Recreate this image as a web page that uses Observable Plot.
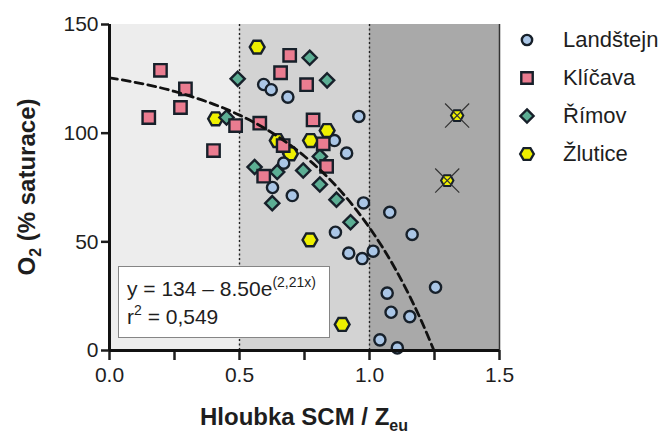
<!DOCTYPE html>
<html><head><meta charset="utf-8">
<script src="https://cdn.jsdelivr.net/npm/d3@7"></script>
<script src="https://cdn.jsdelivr.net/npm/@observablehq/plot@0.6"></script>
<style>
body{margin:0;background:#fff;font-family:Arial,"Liberation Sans",Helvetica,sans-serif;}
#wrap{position:relative;width:670px;height:442px;overflow:hidden;}
#eq{position:absolute;left:118px;top:266px;width:212px;height:72px;background:#fff;border:1.5px solid #858585;font-size:21px;color:#1e1e1e;line-height:28px;padding:8px 0 0 8px;box-sizing:border-box;white-space:nowrap;}
#eq sup{font-size:14px;vertical-align:9px;line-height:0;}
#legend{position:absolute;left:515px;top:21px;font-size:22px;color:#1e1e1e;}
#legend .row{display:flex;align-items:center;height:38px;}
#legend svg{width:24px;height:24px;margin-right:24px;}
</style></head><body><div id="wrap"></div>
<script>
// ---- data ----
const seriesNames = ["Landštejn", "Klíčava", "Římov", "Žlutice"];
const seriesFill = ["#aac6e6", "#ea7c90", "#5cae94", "#eef000"];

const landstejnX = [0.593,0.622,0.686,0.959,0.865,0.912,0.670,0.627,0.703,0.869,0.920,0.977,1.078,1.164,1.014,0.972,1.068,1.254,1.083,1.155,1.040,1.107];
const landstejnY = [122.4,120.0,116.6,107.7,96.6,90.8,86.2,75.0,71.3,54.4,44.8,67.9,63.6,53.4,45.7,42.3,26.4,29.1,17.6,15.6,4.9,1.2];

const klicavaX = [0.151,0.196,0.292,0.273,0.400,0.485,0.693,0.658,0.758,0.578,0.783,0.668,0.822,0.835,0.593];
const klicavaY = [107.2,128.9,120.4,111.8,92.0,103.5,135.8,127.8,122.3,104.6,106.1,94.3,95.1,84.7,80.2];

const rimovX = [0.770,0.493,0.837,0.450,0.809,0.558,0.645,0.745,0.809,0.626,0.873,0.927];
const rimovY = [134.7,125.0,124.3,107.2,89.3,84.4,82.1,82.8,76.4,67.8,69.4,59.0];

const zluticeX = [0.568,0.408,0.837,0.773,0.645,0.696,0.771,0.895];
const zluticeY = [139.6,106.6,101.2,96.6,96.6,90.5,50.9,12.0];

// excluded (crossed) Žlutice points
const excludedX = [1.337,1.299];
const excludedY = [108.1,78.2];

// fitted curve y = 134 - 8.50e^(2,21x)
const fitX = [0,0.25,0.5,0.6,0.75,0.9,1.0,1.05,1.1,1.15,1.2,1.248];
const fitY = [125.5,119.2,108.3,102.0,89.4,71.9,56.5,47.5,37.4,26.1,13.5,0];

// shaded zones
const zoneStart = [0,0.5,1.0];
const zoneEnd = [0.5,1.0,1.5];
const zoneFill = ["#ededed","#d3d3d3","#a9a9a9"];
const zoneDividers = [0.5,1.0];

const xMajorTicks = [0,0.5,1.0,1.5];
const xMinorTicks = [0.25,0.75,1.25];
const yTicks = [0,50,100,150];
const yDomain = [0,150];
const xDomain = [0,1.5];

// ---- build ----
const pts = (xs, ys) => xs.map((x, i) => ({x, y: ys[i]}));
const zones = zoneStart.map((s, i) => ({x1: s, x2: zoneEnd[i], y1: yDomain[0], y2: yDomain[1], fill: zoneFill[i]}));
const fit = pts(fitX, fitY);

const hexFlat = {
  draw(ctx, size) {
    const r = Math.sqrt(size / Math.PI), h = r * Math.sqrt(3) / 2;
    ctx.moveTo(r, 0); ctx.lineTo(r / 2, h); ctx.lineTo(-r / 2, h);
    ctx.lineTo(-r, 0); ctx.lineTo(-r / 2, -h); ctx.lineTo(r / 2, -h); ctx.closePath();
  }
};
const symbols = ["circle", "square", "diamond2", hexFlat];
const radii = [5.6, 7.0, 6.4, 7.4];
const ink = "#17202a";
const dotStyle = i => ({x: "x", y: "y", symbol: symbols[i], r: radii[i], fill: seriesFill[i], stroke: ink, strokeWidth: 2.4});

const plot = Plot.plot({
  width: 670, height: 442,
  marginLeft: 109, marginRight: 171, marginTop: 24, marginBottom: 92,
  x: {domain: xDomain},
  y: {domain: yDomain},
  color: {type: "identity"},
  style: {fontFamily: "Arial, 'Liberation Sans', Helvetica, sans-serif", color: "#1e1e1e", background: "transparent", overflow: "visible"},
  marks: [
    Plot.rect(zones, {x1: "x1", x2: "x2", y1: "y1", y2: "y2", fill: "fill"}),
    Plot.ruleX(zoneDividers, {stroke: "#222", strokeWidth: 1.4, strokeDasharray: "2,2.5"}),
    Plot.ruleX([xDomain[1]], {stroke: "#333", strokeWidth: 1.5}),
    Plot.dot(pts(zluticeX, zluticeY), dotStyle(3)),
    Plot.dot(pts(landstejnX, landstejnY), dotStyle(0)),
    Plot.dot(pts(rimovX, rimovY), dotStyle(2)),
    Plot.dot(pts(klicavaX, klicavaY), dotStyle(1)),
    Plot.dot(pts(excludedX, excludedY), {x: "x", y: "y", symbol: hexFlat, r: 6.2, fill: seriesFill[3], stroke: ink, strokeWidth: 2}),
    Plot.dot(pts(excludedX, excludedY), {x: "x", y: "y", symbol: "times", r: 11, stroke: "#333", strokeWidth: 1.2}),
    Plot.line(fit, {x: "x", y: "y", stroke: "#111", strokeWidth: 2.8, strokeDasharray: "8,5", curve: "monotone-x"}),
    Plot.axisY({ticks: yTicks, tickSize: 8, tickPadding: 3, fontSize: 21, strokeWidth: 2.5, label: null}),
    Plot.axisX({ticks: xMajorTicks, tickFormat: d3.format(".1f"), tickSize: 10, tickPadding: 7, fontSize: 21, strokeWidth: 2.5, label: null}),
    Plot.axisX({ticks: xMinorTicks, tickFormat: () => "", tickSize: 10, strokeWidth: 2.5, label: null}),
    Plot.ruleX([xDomain[0]], {stroke: "#111", strokeWidth: 3}),
    Plot.ruleY([yDomain[0]], {stroke: "#111", strokeWidth: 3})
  ]
});

const wrap = document.getElementById("wrap");
wrap.appendChild(plot);

// axis titles (real text with sub-scripts)
const svg = d3.select(plot);
const xt = svg.append("text").attr("x", 304).attr("y", 425).attr("text-anchor", "middle")
  .attr("font-size", 24).attr("font-weight", "bold").attr("fill", "#1e1e1e");
xt.append("tspan").text("Hloubka SCM / Z");
xt.append("tspan").attr("font-size", 16).attr("dy", 6).text("eu");

const yt = svg.append("text").attr("transform", "translate(35,187) rotate(-90)").attr("text-anchor", "middle")
  .attr("font-size", 24).attr("font-weight", "bold").attr("fill", "#1e1e1e");
yt.append("tspan").text("O");
yt.append("tspan").attr("font-size", 16).attr("dy", 6).text("2");
yt.append("tspan").attr("dy", -6).text(" (% saturace)");

// equation box
const eq = document.createElement("div");
eq.id = "eq";
eq.innerHTML = "y = 134 – 8.50e<sup>(2,21x)</sup><br>r<sup>2</sup> = 0,549";
wrap.appendChild(eq);

// legend
const legend = document.createElement("div");
legend.id = "legend";
const d3sym = [d3.symbolCircle, d3.symbolSquare, d3.symbolDiamond2, hexFlat];
seriesNames.forEach((name, i) => {
  const row = document.createElement("div");
  row.className = "row";
  const s = d3.create("svg").attr("viewBox", "-12 -12 24 24");
  s.append("path").attr("d", d3.symbol(d3sym[i], Math.PI * radii[i] * radii[i] * 0.85)())
    .attr("fill", seriesFill[i]).attr("stroke", ink).attr("stroke-width", 2.4);
  row.appendChild(s.node());
  const t = document.createElement("span");
  t.textContent = name;
  row.appendChild(t);
  legend.appendChild(row);
});
wrap.appendChild(legend);
</script>
</body></html>
